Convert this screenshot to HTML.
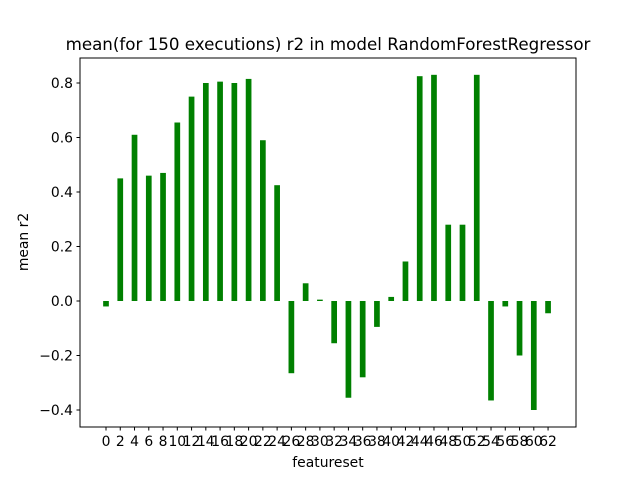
<!DOCTYPE html>
<html><head><meta charset="utf-8"><style>
body{margin:0;background:#fff;}
svg{display:block;font-family:"DejaVu Sans","Liberation Sans",sans-serif;}
</style></head><body>
<svg id="chart" width="640" height="480">
<rect width="640" height="480" fill="#fff"/>
<text x="328" y="50" text-anchor="middle" font-size="16.7">mean(for 150 executions) r2 in model RandomForestRegressor</text>
<text x="328" y="467" text-anchor="middle" font-size="13.9">featureset</text>
<text transform="translate(28,242) rotate(-90)" text-anchor="middle" font-size="13.9">mean r2</text>
<g id="bars"></g><g id="xticks"></g><g id="yticks"></g>
<rect x="80" y="58" width="496" height="369" fill="none" stroke="#000" stroke-width="1"/>
</svg>
<script>
const categories=[0,2,4,6,8,10,12,14,16,18,20,22,24,26,28,30,32,34,36,38,40,42,44,46,48,50,52,54,56,58,60,62];
const values=[-0.02,0.45,0.61,0.46,0.47,0.655,0.75,0.80,0.805,0.80,0.815,0.59,0.425,-0.265,0.065,0.005,-0.155,-0.355,-0.28,-0.095,0.015,0.145,0.825,0.83,0.28,0.28,0.83,-0.365,-0.02,-0.20,-0.40,-0.045];
const yTicks=[-0.4,-0.2,0.0,0.2,0.4,0.6,0.8];
const NS="http://www.w3.org/2000/svg";
function x(i){return 106+i*14.26;}
function y(v){return 301-v*272.5;}
const bw=5.7;
const gb=document.getElementById('bars'),gx=document.getElementById('xticks'),gy=document.getElementById('yticks');
values.forEach((v,i)=>{
const r=document.createElementNS(NS,'rect');


r.setAttribute('x',x(i)-bw/2);r.setAttribute('width',bw);
r.setAttribute('y',Math.min(y(v),y(0)));r.setAttribute('height',Math.abs(y(v)-y(0)));
r.setAttribute('fill','#008000');gb.appendChild(r);
const t=document.createElementNS(NS,'line');


t.setAttribute('x1',x(i));t.setAttribute('x2',x(i));t.setAttribute('y1',427);t.setAttribute('y2',430.5);t.setAttribute('stroke','#000');gx.appendChild(t);
const l=document.createElementNS(NS,'text');


l.setAttribute('x',x(i));l.setAttribute('y',446);l.setAttribute('text-anchor','middle');l.setAttribute('font-size','13.9');
l.textContent=categories[i];gx.appendChild(l);
});
yTicks.forEach(v=>{
const t=document.createElementNS(NS,'line');


t.setAttribute('x1',76.5);t.setAttribute('x2',80);t.setAttribute('y1',y(v));t.setAttribute('y2',y(v));t.setAttribute('stroke','#000');gy.appendChild(t);
const l=document.createElementNS(NS,'text');


l.setAttribute('x',73);l.setAttribute('y',y(v)+5);l.setAttribute('text-anchor','end');l.setAttribute('font-size','13.9');
l.textContent=(v<0?'\u2212':'')+Math.abs(v).toFixed(1);gy.appendChild(l);
});
</script>
</body></html>
